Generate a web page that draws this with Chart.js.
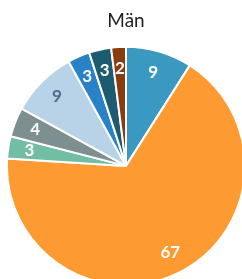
<!DOCTYPE html>
<html>
<head>
<meta charset="utf-8">
<style>
  html, body { margin: 0; padding: 0; overflow: hidden; background: #fff; }
  #wrap { width: 252px; height: 286px; }
</style>
<script src="https://cdn.jsdelivr.net/npm/chart.js@4/dist/chart.umd.min.js"></script>
</head>
<body>
<div id="wrap"><canvas id="pieChart" width="252" height="286"></canvas></div>
<script>
const chartTitle = 'Män';
const categories = ['A', 'B', 'C', 'D', 'E', 'F', 'G', 'H'];
const values = [9, 67, 3, 4, 9, 3, 3, 2];
const sliceColors = ['#3a98c1', '#fd9b32', '#72bea4', '#7e8f8f', '#b8d3e8', '#2a82c6', '#1d5b70', '#8a3c0e'];
const labelColors = ['#fff', '#fff', '#fff', '#fff', '#4d6f8f', '#fff', '#fff', '#fff'];

// draws the value inside each slice
const sliceLabels = {
    id: 'sliceLabels',
    afterDatasetsDraw(chart) {
        const ctx = chart.ctx;
        const meta = chart.getDatasetMeta(0);
        ctx.save();
        ctx.font = 'bold 17px Lato';
        ctx.textAlign = 'center';
        ctx.textBaseline = 'middle';
        meta.data.forEach((arc, i) => {
            const p = arc.getProps(['x', 'y', 'startAngle', 'endAngle', 'outerRadius']);
            const mid = (p.startAngle + p.endAngle) / 2;
            const r = p.outerRadius * 0.82;
            ctx.fillStyle = labelColors[i];
            ctx.fillText(String(values[i]), p.x + Math.cos(mid) * r, p.y + Math.sin(mid) * r);
        });
        ctx.restore();
    }
};

document.addEventListener('DOMContentLoaded', function() {
    const pieCtx = document.getElementById('pieChart');
    new Chart(pieCtx, {
        type: 'pie',
        data: {
            labels: categories,
            datasets: [{
                data: values,
                backgroundColor: sliceColors,
                borderColor: '#fff',
                borderWidth: 2
            }]
        },
        options: {
            responsive: false,
            animation: false,
            layout: { padding: 0 },
            plugins: {
                legend: { display: false },
                tooltip: { enabled: false },
                title: {
                    display: true,
                    text: chartTitle,
                    color: '#222',
                    font: { family: 'Lato', size: 19, weight: 'normal' },
                    padding: { top: 9, bottom: 14 }
                }
            }
        },
        plugins: [sliceLabels]
    });
});
</script>
</body>
</html>
